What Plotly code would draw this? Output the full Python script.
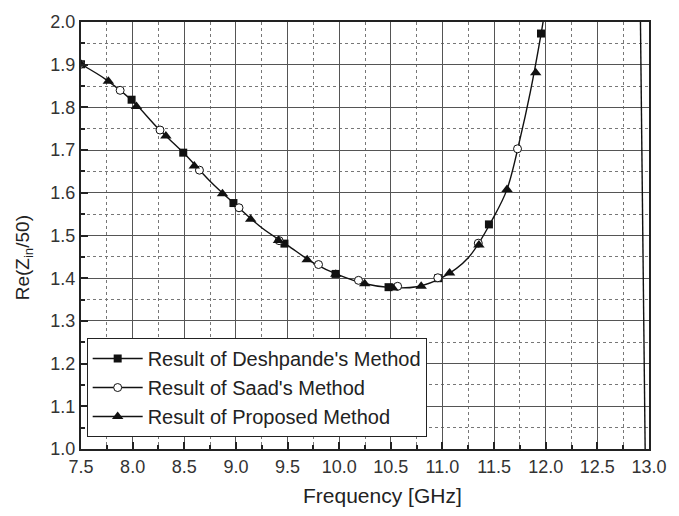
import plotly.graph_objects as go

# Computed Re(Zin/50) curve (shared by all three methods, they overlap closely)
curve_f = [7.5, 7.75, 8.0, 8.25, 8.5, 8.75, 9.0, 9.25, 9.5, 9.75, 10.0, 10.25, 10.5,
           10.75, 11.0, 11.25, 11.5, 11.625, 11.75, 11.85, 11.95, 12.0, 12.05]
curve_re = [1.901, 1.864, 1.815, 1.750, 1.692, 1.627, 1.571, 1.518, 1.477, 1.436, 1.407,
            1.387, 1.378, 1.380, 1.402, 1.448, 1.545, 1.608, 1.725, 1.835, 1.965, 2.04, 2.13]

# falling branch after the resonance peak
branch_f = [12.915, 12.965]
branch_re = [2.05, 0.95]

# Deshpande's method
desh_f = [7.5, 7.99, 8.49, 8.976, 9.47, 9.965, 10.478, 10.96, 11.45, 11.954]
desh_re = [1.901, 1.818, 1.694, 1.576, 1.481, 1.410, 1.379, 1.400, 1.526, 1.973]

# Saad's method
saad_f = [7.494, 7.879, 8.265, 8.647, 9.03, 9.418, 9.80, 10.187, 10.566, 10.955, 11.347, 11.727]
saad_re = [1.901, 1.840, 1.747, 1.653, 1.565, 1.488, 1.432, 1.395, 1.381, 1.401, 1.482, 1.703]

# Proposed method
prop_f = [7.5, 7.765, 8.037, 8.322, 8.597, 8.87, 9.143, 9.412, 9.69, 9.967, 10.247,
          10.52, 10.794, 11.069, 11.353, 11.625, 11.903]
prop_re = [1.901, 1.861, 1.802, 1.733, 1.663, 1.598, 1.538, 1.488, 1.443, 1.409, 1.387,
           1.377, 1.381, 1.412, 1.478, 1.608, 1.881]

x_ticks = [7.5, 8.0, 8.5, 9.0, 9.5, 10.0, 10.5, 11.0, 11.5, 12.0, 12.5, 13.0]
y_ticks = [1.0, 1.1, 1.2, 1.3, 1.4, 1.5, 1.6, 1.7, 1.8, 1.9, 2.0]

FONT = "Liberation Sans, Arial, sans-serif"
LINE = dict(color="#111111", width=1.4)

series = [
    ("Result of Deshpande's Method", desh_f, desh_re,
     dict(symbol="square", size=8, color="#111111", line=dict(width=0))),
    ("Result of Saad's Method", saad_f, saad_re,
     dict(symbol="circle", size=8, color="white", line=dict(color="#111111", width=1))),
    ("Result of Proposed Method", prop_f, prop_re,
     dict(symbol="triangle-up", size=10, color="#111111", line=dict(width=0))),
]

fig = go.Figure()

fig.add_trace(go.Scatter(x=branch_f, y=branch_re, mode="lines", line=LINE,
                         showlegend=False, hoverinfo="skip"))
fig.add_trace(go.Scatter(x=curve_f, y=curve_re, mode="lines",
                         line=dict(**LINE, shape="spline", smoothing=1.0),
                         showlegend=False, hoverinfo="skip"))

for i, (name, fx, fy, mk) in enumerate(series):
    # markers on the curve
    fig.add_trace(go.Scatter(x=fx, y=fy, mode="markers", marker=mk, name=name,
                             legendgroup=f"g{i}", showlegend=False))
    # legend entry (line with marker)
    fig.add_trace(go.Scatter(x=[None], y=[None], mode="lines+markers", line=LINE,
                             marker=mk, name=name, legendgroup=f"g{i}"))

axis_common = dict(
    showline=True, linecolor="#222222", linewidth=2, mirror=True,
    showgrid=True, gridcolor="#555555", gridwidth=1,
    ticks="inside", ticklen=7, tickwidth=1.5, tickcolor="#222222",
    tickfont=dict(family=FONT, size=18, color="#333333"),
    zeroline=False,
)

fig.update_layout(
    width=679, height=516,
    margin=dict(l=81, r=18, t=19, b=67),
    paper_bgcolor="white", plot_bgcolor="white",
    showlegend=True,
    legend=dict(
        x=0.01, y=0.028, xanchor="left", yanchor="bottom",
        bgcolor="white", bordercolor="#222222", borderwidth=1,
        font=dict(family=FONT, size=20, color="#222222"),
        tracegroupgap=0, itemwidth=50,
    ),
    xaxis=dict(
        **axis_common,
        range=[7.5, 13.0], tickvals=x_ticks,
        ticktext=[f"{v:.1f}" for v in x_ticks],
        minor=dict(dtick=0.25, tick0=7.5, showgrid=True, gridcolor="#777777",
                   griddash="dot", gridwidth=1, ticks="inside", ticklen=4,
                   tickcolor="#222222"),
    ),
    yaxis=dict(
        **axis_common,
        range=[1.0, 2.0], tickvals=y_ticks,
        ticktext=[f"{v:.1f}" for v in y_ticks],
        minor=dict(dtick=0.05, tick0=1.0, showgrid=True, gridcolor="#777777",
                   griddash="dot", gridwidth=1, ticks="inside", ticklen=4,
                   tickcolor="#222222"),
    ),
    annotations=[
        dict(text="Frequency [GHz]", xref="paper", yref="paper", x=0.53, y=-0.108,
             xanchor="center", yanchor="middle", showarrow=False,
             font=dict(family=FONT, size=21, color="#222222")),
        dict(text="Re(Z<sub>in</sub>/50)", xref="paper", yref="paper", x=-0.10, y=0.447,
             xanchor="center", yanchor="middle", textangle=-90, showarrow=False,
             font=dict(family=FONT, size=19, color="#222222")),
    ],
)

fig.write_html("out.html")
